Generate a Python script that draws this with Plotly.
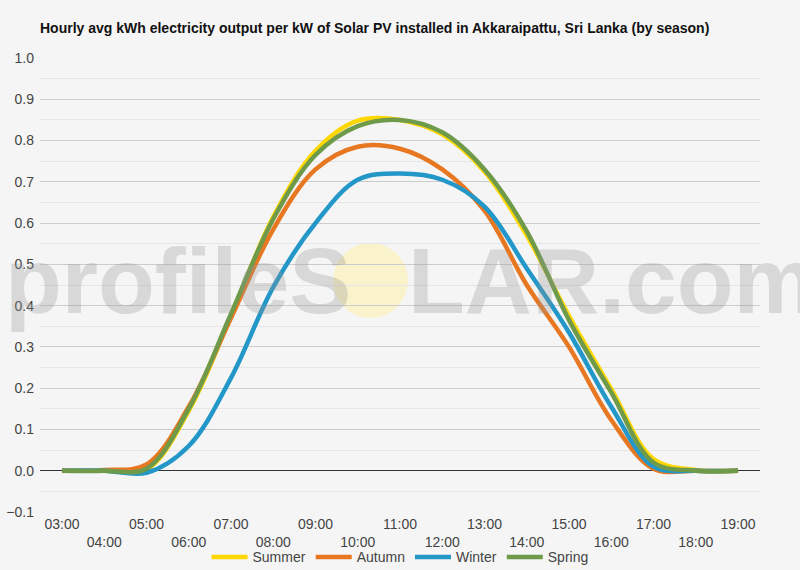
import plotly.graph_objects as go

hours = list(range(3, 20))
hour_labels = [f"{h:02d}:00" for h in hours]

summer = [0, 0, 0.003, 0.145, 0.375, 0.615, 0.775, 0.848, 0.85, 0.815, 0.725, 0.57, 0.375, 0.198, 0.028, 0.002, 0]
autumn = [0, 0.002, 0.015, 0.155, 0.37, 0.585, 0.73, 0.785, 0.78, 0.73, 0.63, 0.45, 0.30, 0.123, 0.005, 0, 0]
winter = [0, 0, -0.005, 0.06, 0.225, 0.445, 0.60, 0.705, 0.72, 0.705, 0.64, 0.49, 0.335, 0.155, 0.01, 0, 0]
spring = [0, 0, 0.005, 0.15, 0.38, 0.61, 0.765, 0.835, 0.85, 0.82, 0.73, 0.58, 0.365, 0.19, 0.02, 0, 0]

series = [
    ("Summer", summer, "#FFD700"),
    ("Autumn", autumn, "#E87722"),
    ("Winter", winter, "#2297C8"),
    ("Spring", spring, "#6E9A4A"),
]

# odd hours on the first row, even hours pushed down a line
tick_text = [lbl if h % 2 else "<br>" + lbl for h, lbl in zip(hours, hour_labels)]

fig = go.Figure()
for name, vals, col in series:
    fig.add_trace(go.Scatter(
        x=hours, y=vals, name=name, mode="lines",
        line=dict(color=col, width=4.5, shape="spline", smoothing=1),
    ))

bg = "#f5f5f5"
fig.update_layout(
    width=800, height=570,
    paper_bgcolor=bg, plot_bgcolor=bg,
    margin=dict(l=40, r=40, t=58, b=58, autoexpand=False),
    font=dict(family="Liberation Sans, Arial", size=14, color="#444"),
    title=dict(
        text="<b>Hourly avg kWh electricity output per kW of Solar PV installed in Akkaraipattu, Sri Lanka (by season)</b>",
        x=40 / 800, xanchor="left", y=1 - 28 / 570, yanchor="middle",
        font=dict(size=14, color="#111"),
    ),
    legend=dict(
        orientation="h", x=0.5, xanchor="center", y=-0.1, yanchor="middle",
        font=dict(size=14, color="#444"), bgcolor="rgba(0,0,0,0)",
        itemwidth=36,
    ),
    xaxis=dict(
        range=[2.48, 19.52], tickvals=hours, ticktext=tick_text,
        showgrid=False, zeroline=False, ticks="", automargin=False,
        ticklabelstandoff=2,
        tickfont=dict(size=14, color="#444"),
    ),
    yaxis=dict(
        range=[-0.1, 1.0], dtick=0.1, tickformat=".1f", automargin=False,
        ticklabelstandoff=5,
        gridcolor="#cccccc", gridwidth=1,
        zeroline=True, zerolinecolor="#333", zerolinewidth=1.2,
        minor=dict(dtick=0.05, showgrid=True, gridcolor="#e6e6e6", gridwidth=1),
        tickfont=dict(size=14, color="#444"),
    ),
)

# watermark
wm_font = dict(family="Liberation Sans, Arial", size=93, color="rgba(150,150,150,0.3)", weight="bold")
wm_y = (512 - 281) / 454
fig.add_annotation(text="profileS", xref="paper", yref="paper", x=(3 - 40) / 720,
                   y=wm_y, xanchor="left", yanchor="middle",
                   showarrow=False, font=wm_font)
fig.add_annotation(text="LAR.com", xref="paper", yref="paper", x=(406 - 40) / 720,
                   y=wm_y, xanchor="left", yanchor="middle",
                   showarrow=False, font=wm_font)
fig.add_shape(type="circle", xref="paper", yref="paper",
              x0=(333 - 40) / 720, x1=(408 - 40) / 720,
              y0=(512 - 318) / 454, y1=(512 - 243) / 454,
              fillcolor="rgba(255,240,150,0.45)", line_width=0, layer="below")

# drop the browser's default page margin so the figure sits at the corner
fig.write_html("out.html", config={"displayModeBar": False},
               post_script="document.body.style.margin='0';"
                           "document.body.style.background='#f5f5f5';")
